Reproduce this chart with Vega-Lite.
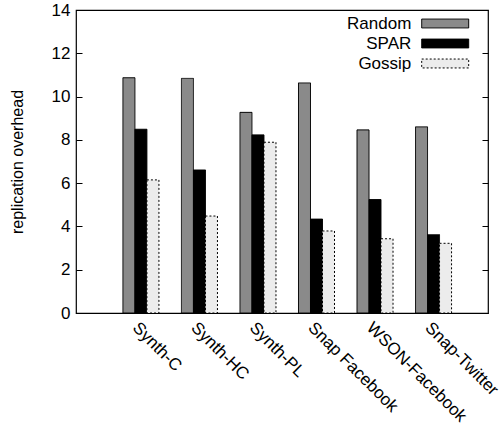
{
  "$schema": "https://vega.github.io/schema/vega-lite/v6.json",
  "width": 412,
  "height": 303,
  "autosize": {"type": "none"},
  "padding": {"left": 76, "top": 10, "right": 16, "bottom": 117},
  "background": "white",
  "config": {
    "view": {"stroke": "black", "strokeWidth": 1.2},
    "font": "Liberation Sans",
    "axis": {"labelFont": "Liberation Sans", "titleFont": "Liberation Sans", "labelColor": "black", "titleColor": "black", "domain": false, "grid": false}
  },
  "data": {
    "values": [
      {"dataset": "Synth-C", "method": "Random", "value": 10.87},
      {"dataset": "Synth-C", "method": "SPAR", "value": 8.49},
      {"dataset": "Synth-C", "method": "Gossip", "value": 6.15},
      {"dataset": "Synth-HC", "method": "Random", "value": 10.84},
      {"dataset": "Synth-HC", "method": "SPAR", "value": 6.61},
      {"dataset": "Synth-HC", "method": "Gossip", "value": 4.48},
      {"dataset": "Synth-PL", "method": "Random", "value": 9.27},
      {"dataset": "Synth-PL", "method": "SPAR", "value": 8.23},
      {"dataset": "Synth-PL", "method": "Gossip", "value": 7.89},
      {"dataset": "Snap Facebook", "method": "Random", "value": 10.63},
      {"dataset": "Snap Facebook", "method": "SPAR", "value": 4.34},
      {"dataset": "Snap Facebook", "method": "Gossip", "value": 3.79},
      {"dataset": "WSON-Facebook", "method": "Random", "value": 8.46},
      {"dataset": "WSON-Facebook", "method": "SPAR", "value": 5.24},
      {"dataset": "WSON-Facebook", "method": "Gossip", "value": 3.43},
      {"dataset": "Snap-Twitter", "method": "Random", "value": 8.6},
      {"dataset": "Snap-Twitter", "method": "SPAR", "value": 3.62},
      {"dataset": "Snap-Twitter", "method": "Gossip", "value": 3.22}
    ]
  },
  "layer": [
    {
      "mark": {"type": "bar", "stroke": "black", "strokeWidth": 1},
      "encoding": {
        "x": {
          "field": "dataset", "type": "nominal", "sort": null,
          "scale": {"paddingInner": 0, "paddingOuter": 0.52, "align": 0.586},
          "axis": {"title": null, "labelAngle": 45, "labelFontSize": 17, "ticks": false, "labelPadding": 6, "labelAlign": "left", "labelBaseline": "top"}
        },
        "xOffset": {
          "field": "method", "type": "nominal", "sort": ["Random", "SPAR", "Gossip"],
          "scale": {"paddingInner": 0, "paddingOuter": 0.9375}
        },
        "y": {
          "field": "value", "type": "quantitative",
          "scale": {"domain": [0, 14], "nice": false},
          "axis": {"title": "replication overhead", "titleFontSize": 16, "titleFontWeight": "normal", "labelFontSize": 17, "values": [0, 2, 4, 6, 8, 10, 12, 14], "tickSize": -6, "tickColor": "black", "labelPadding": 12, "titlePadding": 26}
        },
        "color": {
          "field": "method", "type": "nominal", "sort": ["Random", "SPAR", "Gossip"],
          "scale": {"domain": ["Random", "SPAR", "Gossip"], "range": ["#8a8a8a", "#000000", "#ececec"]},
          "legend": {
            "title": null, "orient": "none", "legendX": 360.7, "legendY": 5,
            "symbolType": "M-3,-0.57H3V0.57H-3Z", "symbolSize": 245.5,
            "symbolStrokeColor": "black", "symbolStrokeWidth": 1,
            "labelAlign": "right", "labelOffset": -42.4, "labelFontSize": 17, "labelColor": "black",
            "rowPadding": 2, "padding": 0
          }
        },
        "strokeDash": {
          "field": "method", "type": "nominal", "sort": ["Random", "SPAR", "Gossip"],
          "scale": {"domain": ["Random", "SPAR", "Gossip"], "range": [[1, 0], [1, 0], [2, 2]]}
        }
      }
    },
    {
      "mark": {"type": "rule", "opacity": 0},
      "encoding": {
        "y": {
          "field": "value", "type": "quantitative",
          "axis": {"orient": "right", "title": null, "labels": false, "values": [0, 2, 4, 6, 8, 10, 12, 14], "tickSize": -6, "tickColor": "black"}
        }
      }
    }
  ],
  "resolve": {"axis": {"y": "independent"}}
}
